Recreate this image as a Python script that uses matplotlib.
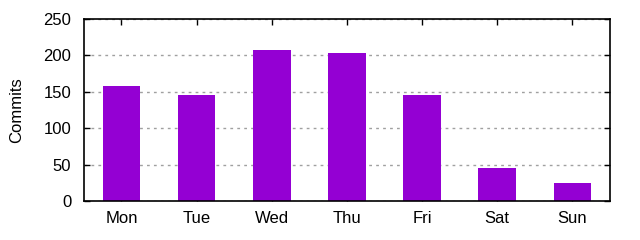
import matplotlib
matplotlib.use('Agg')
import matplotlib.pyplot as plt

days = ['Mon', 'Tue', 'Wed', 'Thu', 'Fri', 'Sat', 'Sun']
commits = [158, 146, 207, 203, 146, 45, 25]

plt.rcParams['font.family'] = ['Liberation Sans', 'DejaVu Sans']
plt.rcParams['font.size'] = 12

fig = plt.figure(figsize=(6.4, 2.4), dpi=100)
ax = fig.add_axes([0.131, 0.1625, 0.822, 0.7585])

x = range(len(days))
ax.bar(x, commits, width=0.5, color='#9400D3', zorder=2)

ax.set_xlim(-0.5, len(days) - 0.5)
ax.set_ylim(0, 250)
ax.set_yticks(range(0, 251, 50))
ax.set_xticks(list(x))
ax.set_xticklabels(days)
ax.set_ylabel('Commits', labelpad=14)

ax.tick_params(direction='in', top=True, right=True, length=4, width=1, colors='black')
ax.tick_params(axis='x', pad=7)
ax.tick_params(axis='y', pad=9)
ax.grid(axis='y', color='#a0a0a0', linestyle=(0, (2, 3)), linewidth=1, zorder=0)
for s in ax.spines.values():
    s.set_linewidth(1.2)
    s.set_zorder(3)

fig.savefig('out.png', dpi=100)
